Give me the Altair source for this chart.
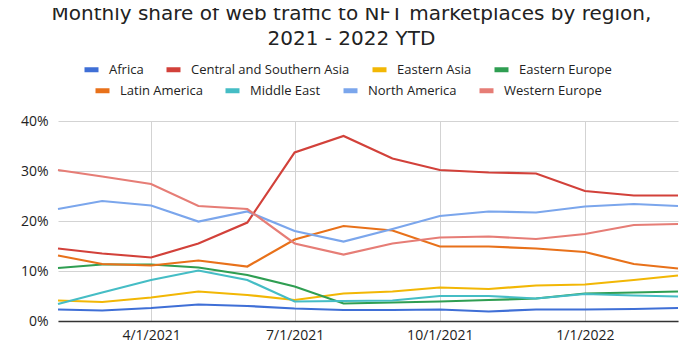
import altair as alt
import pandas as pd

months = ["2021-02-01", "2021-03-01", "2021-04-01", "2021-05-01", "2021-06-01",
          "2021-07-01", "2021-08-01", "2021-09-01", "2021-10-01", "2021-11-01",
          "2021-12-01", "2022-01-01", "2022-02-01", "2022-03-01"]

africa = [2.3, 2.1, 2.6, 3.3, 3.0, 2.5, 2.2, 2.2, 2.3, 1.9, 2.3, 2.3, 2.4, 2.6]
central_southern_asia = [14.5, 13.5, 12.7, 15.5, 19.7, 33.7, 37.0, 32.5, 30.2, 29.7, 29.5, 26.0, 25.1, 25.1]
eastern_asia = [4.1, 3.8, 4.7, 5.9, 5.2, 4.2, 5.5, 5.9, 6.7, 6.4, 7.1, 7.3, 8.2, 9.1]
eastern_europe = [10.6, 11.3, 11.3, 10.7, 9.2, 6.9, 3.5, 3.7, 3.9, 4.2, 4.5, 5.5, 5.7, 5.9]
latin_america = [13.1, 11.4, 11.1, 12.1, 10.9, 16.3, 19.0, 18.1, 14.9, 14.9, 14.5, 13.8, 11.4, 10.5]
middle_east = [3.4, 5.7, 8.2, 10.1, 8.2, 3.9, 4.0, 4.1, 5.0, 5.0, 4.5, 5.4, 5.1, 4.9]
north_america = [22.4, 24.0, 23.1, 19.9, 21.9, 18.0, 15.9, 18.4, 21.0, 21.9, 21.7, 22.9, 23.4, 23.0]
western_europe = [30.2, 28.9, 27.4, 23.0, 22.4, 15.5, 13.3, 15.5, 16.7, 16.9, 16.4, 17.4, 19.2, 19.4]

row1_names = ["Africa", "Central and Southern Asia", "Eastern Asia", "Eastern Europe"]
row2_names = ["Latin America", "Middle East", "North America", "Western Europe"]
row1_colors = ["#3f6fd6", "#d2413a", "#f2b705", "#2f9e52"]
row2_colors = ["#e8711a", "#45bdc5", "#7ba6ec", "#e67d76"]

series = {
    "Africa": africa,
    "Central and Southern Asia": central_southern_asia,
    "Eastern Asia": eastern_asia,
    "Eastern Europe": eastern_europe,
    "Latin America": latin_america,
    "Middle East": middle_east,
    "North America": north_america,
    "Western Europe": western_europe,
}

rows = []
for name, vals in series.items():
    for m, v in zip(months, vals):
        rows.append({"month": m, "region": name, "share": v / 100.0})
df = pd.DataFrame(rows)

FONT = "Open Sans"
TITLE_FONT = "DejaVu Sans"

x_enc = alt.X(
    "month:T",
    scale=alt.Scale(type="utc",
                    domain=[alt.DateTime(year=2021, month=2, date=1, utc=True),
                            alt.DateTime(year=2022, month=3, date=1, utc=True)],
                    nice=False),
    axis=alt.Axis(
        title=None,
        values=[alt.DateTime(year=2021, month=4, date=1, utc=True),
                alt.DateTime(year=2021, month=7, date=1, utc=True),
                alt.DateTime(year=2021, month=10, date=1, utc=True),
                alt.DateTime(year=2022, month=1, date=1, utc=True)],
        labelExpr="utcFormat(datum.value, '%-m/%-d/%Y')",
        grid=True, gridColor="#d3d3d3", gridWidth=1,
        ticks=False, domain=True, domainColor="#333333", domainWidth=1.5,
        labelFont=FONT, labelFontSize=14, labelColor="#222222", labelPadding=7,
    ),
)
y_enc = alt.Y(
    "share:Q",
    scale=alt.Scale(domain=[0, 0.4], nice=False),
    axis=alt.Axis(
        title=None, values=[0, 0.1, 0.2, 0.3, 0.4], format=".0%",
        grid=True, gridColor="#d3d3d3", gridWidth=1,
        ticks=False, domain=False,
        labelFont=FONT, labelFontSize=14, labelColor="#222222", labelPadding=10,
    ),
)

def legend(x, y):
    return alt.Legend(
        title=None, orient="none", legendX=x, legendY=y, direction="horizontal",
        symbolType="stroke", symbolStrokeWidth=5, symbolSize=196,
        labelFont=FONT, labelFontSize=13, labelColor="#222222", labelLimit=400,
        labelOffset=8, columnPadding=12, padding=0, columns=4,
    )

base = alt.Chart(df)

layer1 = base.transform_filter(
    alt.FieldOneOfPredicate(field="region", oneOf=row1_names)
).mark_line(strokeWidth=2.2).encode(
    x=x_enc, y=y_enc,
    color=alt.Color("region:N",
                    scale=alt.Scale(domain=row1_names, range=row1_colors),
                    legend=legend(24, -61)),
)

layer2 = base.transform_filter(
    alt.FieldOneOfPredicate(field="region", oneOf=row2_names)
).mark_line(strokeWidth=2.2).encode(
    x=x_enc, y=y_enc,
    color=alt.Color("region:N",
                    scale=alt.Scale(domain=row2_names, range=row2_colors),
                    legend=legend(35, -40)),
)

chart = alt.layer(layer1, layer2).resolve_scale(color="independent").properties(
    width=620,
    height=200,
    title=alt.TitleParams(
        text=["Monthly share of web traffic to NFT marketplaces by region,",
              "2021 - 2022 YTD"],
        font=TITLE_FONT, fontSize=20, fontWeight="normal", color="#222222",
        lineHeight=25, anchor="middle", frame="bounds", offset=11,
    ),
    autosize=alt.AutoSizeParams(type="none"),
    padding={"left": 50, "top": 113, "right": 14, "bottom": 29},
).configure_view(stroke=None)

chart.save("out.html", embed_options={"renderer": "svg", "actions": False})
